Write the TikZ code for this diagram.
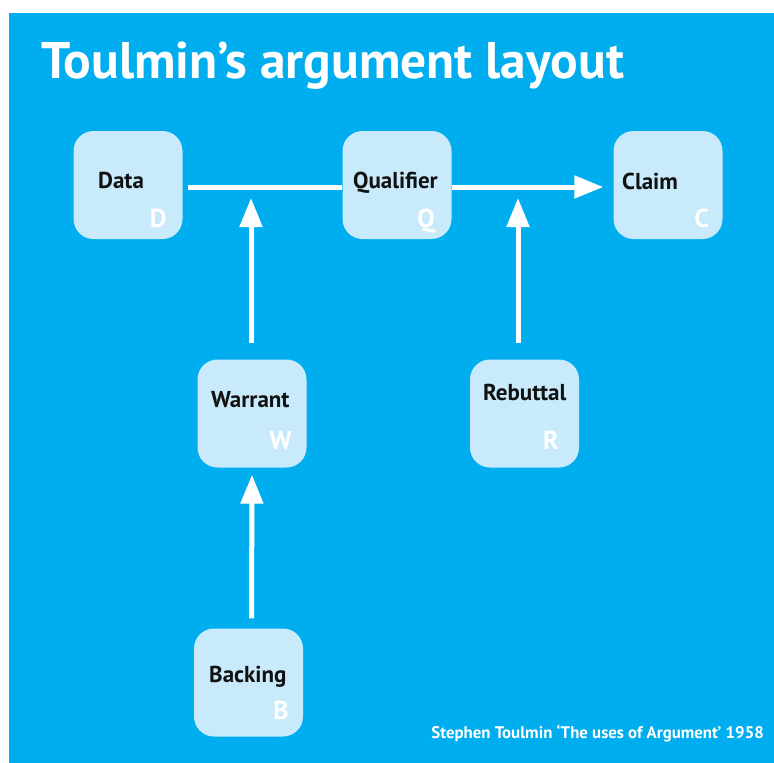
\documentclass[tikz,border=0pt]{standalone}
\usepackage{fontspec}
\setmainfont{PT Sans}
\usetikzlibrary{arrows.meta}

\definecolor{sky}{RGB}{0,174,239}
\definecolor{boxfill}{RGB}{200,234,250}
\definecolor{ink}{RGB}{17,17,17}

\begin{document}
\begin{tikzpicture}[x=1pt,y=-1pt,
  card/.style={fill=boxfill, rounded corners=20pt, minimum width=109pt,
    minimum height=108pt, inner sep=0pt},
  cardtext/.style={anchor=base west, inner sep=0pt, text=ink,
    font=\fontsize{23}{26}\selectfont\bfseries},
  tag/.style={anchor=base east, inner sep=0pt, text=white,
    font=\fontsize{26}{30}\selectfont\bfseries},
  flow/.style={draw=white, line width=5pt,
    -{Triangle[width=22pt,length=29pt]}},
  plain/.style={draw=white, line width=5pt}]

  % page and background
  \useasboundingbox (0,0) rectangle (774,763);
  \fill[white] (0,0) rectangle (774,763);
  \fill[sky] (9,13) rectangle (774,763);

  % title and source
  \node[anchor=base west, inner sep=0pt, text=white,
    font=\fontsize{51.5}{58}\selectfont\bfseries] (title) at (41,78)
    {Toulmin’s argument layout};
  \node[anchor=base east, inner sep=0pt, text=white,
    font=\fontsize{16.8}{20}\selectfont\bfseries] (source) at (764,738)
    {Stephen Toulmin ‘The uses of Argument’ 1958};

  % free ends of the arrows that meet the main line
  \coordinate (wtip) at (251,198);
  \coordinate (rtip) at (518,198);

  % boxes
  \node[card] (data) at (128,185) {};
  \node[card] (qual) at (397,185) {};
  \node[card] (claim) at (668,185) {};
  \node[card] (warrant) at (252,413.5) {};
  \node[card] (rebut) at (524.5,413.5) {};
  \node[card] (backing) at (248.5,682.5) {};

  % connectors
  \draw[plain] ([xshift=5pt,yshift=-2pt]data.east) -- ([yshift=-2pt]qual.west);
  \draw[flow] ([yshift=-2pt]qual.east) -- ([xshift=-10pt,yshift=-2pt]claim.west);
  \draw[flow] ([xshift=-1pt,yshift=16pt]warrant.north) -- (wtip);
  \draw[flow] ([xshift=-6.5pt,yshift=16pt]rebut.north) -- (rtip);
  \draw[flow] ([xshift=3pt,yshift=10pt]backing.north) -- ([yshift=-7pt]warrant.south);

  % box captions
  \node[cardtext] (tdata) at (98,188) {Data};
  \node[cardtext] (tqual) at (353,188) {Qualifier};
  \node[cardtext] (tclaim) at (622,189) {Claim};
  \node[cardtext] (twarrant) at (211,407) {Warrant};
  \node[cardtext] (trebut) at (483,400) {Rebuttal};
  \node[cardtext] (tbacking) at (209,682) {Backing};

  % corner letters
  \node[tag] (ldata) at (167,227) {D};
  \node[tag] (lqual) at (435,227) {Q};
  \node[tag] (lclaim) at (709,227) {C};
  \node[tag] (lwarrant) at (292,449) {W};
  \node[tag] (lrebut) at (559,449) {R};
  \node[tag] (lbacking) at (289,719) {B};
\end{tikzpicture}
\end{document}
